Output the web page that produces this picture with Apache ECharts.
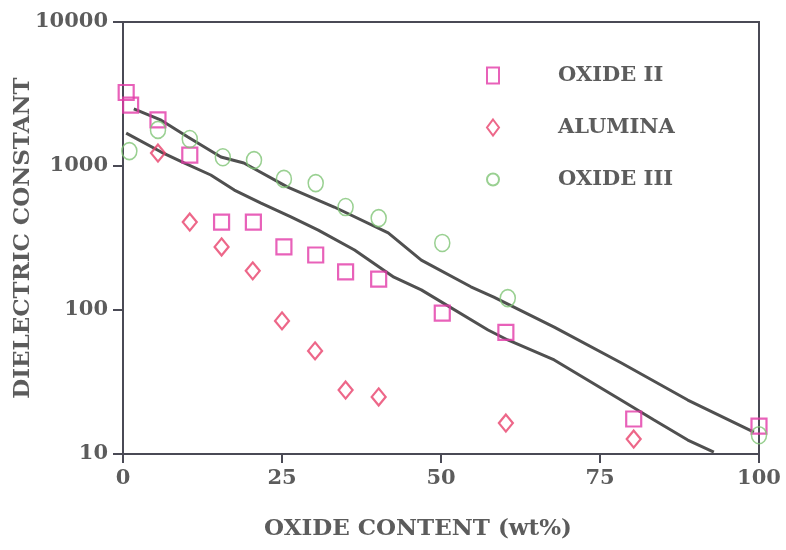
<!DOCTYPE html>
<html>
<head>
<meta charset="utf-8">
<script src="https://cdn.jsdelivr.net/npm/echarts@6/dist/echarts.min.js"></script>
<style>
  html, body { margin: 0; padding: 0; background: #fff; }
  #chart { width: 786px; height: 550px; }
</style>
</head>
<body>
<div id="chart"></div>
<script>
// x ticks and y ticks
const xTicks = [0, 25, 50, 75, 100];
const yTicks = [10, 100, 1000, 10000];

// OXIDE II (squares)
const oxide2X = [0.5, 1.2, 5.5, 10.5, 15.5, 20.5, 25.3, 30.3, 35, 40.2, 50.2, 60.2, 80.3, 100];
const oxide2Y = [3240, 2650, 2090, 1190, 408, 408, 274, 241, 184, 164, 95, 70, 17.5, 15.6];

// ALUMINA (diamonds)
const aluminaX = [5.5, 10.5, 15.5, 20.4, 25, 30.2, 35, 40.2, 60.2, 80.3];
const aluminaY = [1230, 408, 274, 187, 84, 52, 27.8, 24.9, 16.4, 12.7];

// OXIDE III (circles)
const oxide3X = [1, 5.5, 10.5, 15.7, 20.6, 25.3, 30.3, 35, 40.2, 50.2, 60.5, 100];
const oxide3Y = [1270, 1780, 1540, 1150, 1100, 813, 761, 519, 435, 292, 121, 13.5];

// hand drawn fit lines
const upperX = [1.7, 6.0, 10.2, 15.4, 19.0, 25.9, 33.2, 41.7, 46.9, 54.7, 58.3, 67.8, 78.3, 88.8, 99.2];
const upperY = [2490, 2080, 1590, 1155, 1050, 714, 519, 343, 222, 145, 123, 76, 43, 23.7, 14.2];
const lowerX = [0.5, 6.0, 9.6, 13.8, 17.5, 21.7, 26.4, 30.7, 36.4, 42.6, 46.9, 57.4, 60.5, 67.8, 78.3, 83.5, 88.8, 92.9];
const lowerY = [1690, 1250, 1050, 866, 681, 553, 443, 359, 261, 169, 138, 72.6, 61.9, 45, 23.7, 17.2, 12.5, 10.3];

const pairs = (xs, ys) => xs.map((x, i) => [x, ys[i]]);

const textGray = '#5c5c5c';
const axisGray = '#4a4a55';
const serif = 'DejaVu Serif';

let myChart = echarts.init(document.getElementById('chart'));

const option = {
    animation: false,
    backgroundColor: '#fff',
    grid: {
        left: 123,
        right: 27,
        top: 22,
        bottom: 96,
        containLabel: false,
        outerBoundsMode: 'none',
        show: true,
        borderColor: axisGray,
        borderWidth: 2
    },
    legend: {
        orient: 'vertical',
        left: 481,
        top: 60,
        itemWidth: 12,
        itemHeight: 16,
        itemGap: 31,
        data: ['OXIDE II', 'ALUMINA', 'OXIDE III'],
        textStyle: {
            fontFamily: serif,
            fontWeight: 'bold',
            fontSize: 21,
            color: textGray,
            padding: [0, 0, 0, 54]
        }
    },
    xAxis: {
        type: 'value',
        min: 0,
        max: 100,
        interval: 25,
        name: 'OXIDE CONTENT (wt%)',
        nameLocation: 'middle',
        nameGap: 64,
        nameTextStyle: {
            fontFamily: serif,
            fontWeight: 'bold',
            fontSize: 23,
            color: textGray,
            padding: [0, 46, 0, 0]
        },
        splitLine: { show: false },
        axisLine: { lineStyle: { color: axisGray, width: 2 } },
        axisTick: { inside: false, length: 9, lineStyle: { color: axisGray, width: 2 } },
        axisLabel: {
            margin: 14,
            fontFamily: serif,
            fontWeight: 'bold',
            fontSize: 21,
            color: textGray,
            formatter: v => xTicks.includes(v) ? String(v) : ''
        }
    },
    yAxis: {
        type: 'log',
        logBase: 10,
        min: 10,
        max: 10000,
        name: 'DIELECTRIC CONSTANT',
        nameLocation: 'middle',
        nameGap: 88,
        nameMoveOverlap: false,
        nameRotate: 90,
        nameTextStyle: {
            fontFamily: serif,
            fontWeight: 'bold',
            fontSize: 23,
            color: textGray
        },
        splitLine: { show: false },
        minorTick: { show: false },
        axisLine: { lineStyle: { color: axisGray, width: 2 } },
        axisTick: { inside: false, length: 10, lineStyle: { color: axisGray, width: 2 } },
        axisLabel: {
            margin: 15,
            fontFamily: serif,
            fontWeight: 'bold',
            fontSize: 21,
            color: textGray,
            formatter: v => yTicks.includes(v) ? String(v) : ''
        }
    },
    series: [
        {
            name: 'upper fit',
            type: 'line',
            data: pairs(upperX, upperY),
            showSymbol: false,
            symbol: 'none',
            lineStyle: { color: '#505050', width: 3 },
            z: 1
        },
        {
            name: 'lower fit',
            type: 'line',
            data: pairs(lowerX, lowerY),
            showSymbol: false,
            symbol: 'none',
            lineStyle: { color: '#505050', width: 3 },
            z: 1
        },
        {
            name: 'OXIDE II',
            type: 'scatter',
            symbol: 'rect',
            symbolSize: [15, 15],
            data: pairs(oxide2X, oxide2Y),
            itemStyle: { color: 'rgba(0,0,0,0)', borderColor: '#e23aa8', borderWidth: 2.2 },
            z: 3
        },
        {
            name: 'ALUMINA',
            type: 'scatter',
            symbol: 'diamond',
            symbolSize: [14, 17],
            data: pairs(aluminaX, aluminaY),
            itemStyle: { color: 'rgba(0,0,0,0)', borderColor: '#e8416c', borderWidth: 2.2 },
            z: 3
        },
        {
            name: 'OXIDE III',
            type: 'scatter',
            symbol: 'circle',
            symbolSize: [15, 17],
            data: pairs(oxide3X, oxide3Y),
            itemStyle: { color: 'rgba(0,0,0,0)', borderColor: '#7fc476', borderWidth: 1.6 },
            z: 3
        }
    ]
};

myChart.setOption(option);
</script>
</body>
</html>
